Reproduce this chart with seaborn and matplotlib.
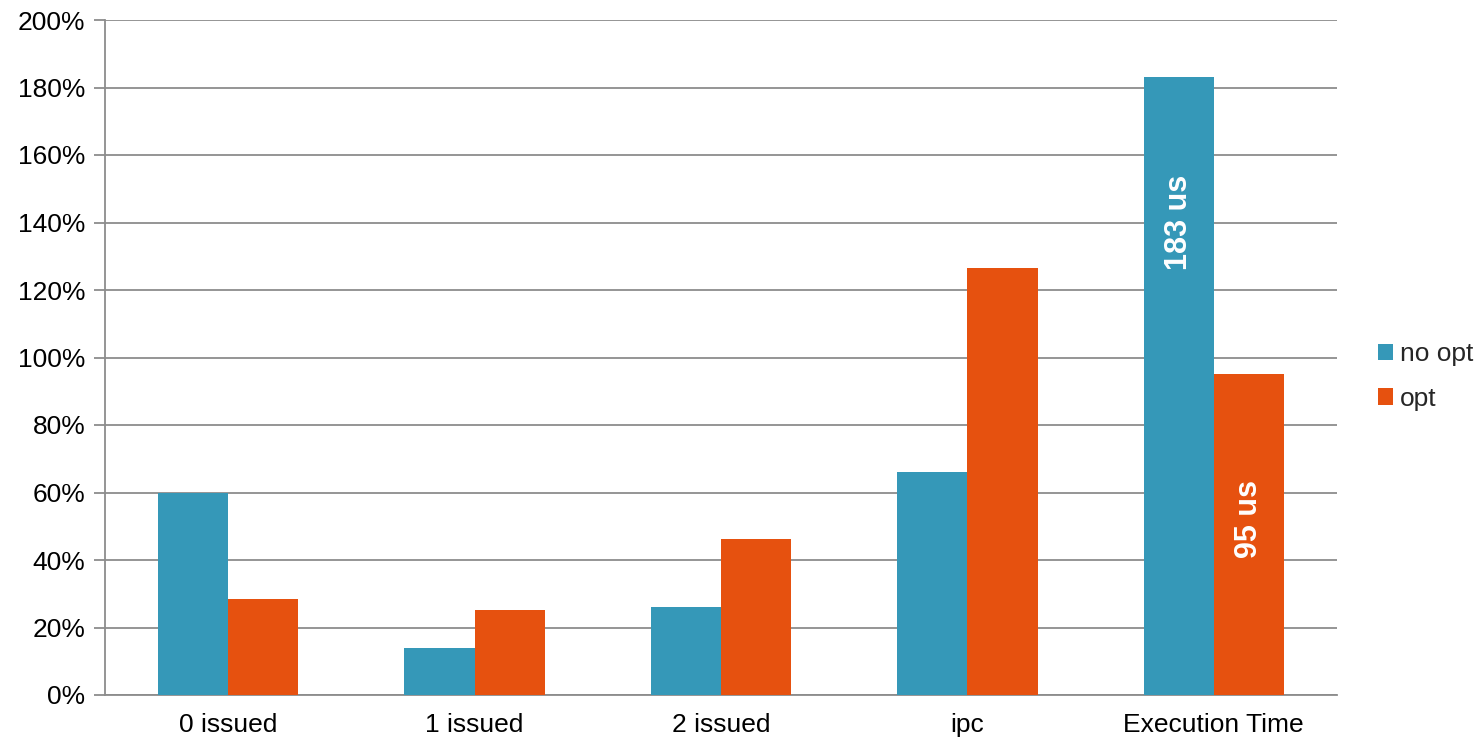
import matplotlib
matplotlib.use("Agg")
import matplotlib.pyplot as plt
import seaborn as sns
import pandas as pd
from matplotlib.ticker import PercentFormatter, MultipleLocator, FixedLocator

categories = ["0 issued", "1 issued", "2 issued", "ipc", "Execution Time"]
no_opt = [60, 14, 26, 66, 183]
opt = [28.3, 25.2, 46.3, 126.6, 95]
series = ["no opt", "opt"]
time_labels = {("Execution Time", "no opt"): "183 us", ("Execution Time", "opt"): "95 us"}

df = pd.DataFrame({
    "category": categories * 2,
    "value": no_opt + opt,
    "series": [series[0]] * len(categories) + [series[1]] * len(categories),
})

sns.set_theme(style="white")
plt.rcParams["font.family"] = ["Liberation Sans", "DejaVu Sans"]

fig = plt.figure(figsize=(14.77, 7.39), dpi=100)
ax = fig.add_axes([105 / 1477, 44 / 739, (1337 - 105) / 1477, (695 - 20) / 739])

palette = {"no opt": "#3598B8", "opt": "#E6510F"}
sns.barplot(data=df, x="category", y="value", hue="series", order=categories,
            hue_order=series, palette=palette, width=0.57, saturation=1,
            linewidth=0, ax=ax, zorder=3)

ax.set_ylim(0, 200)
ax.set_xlim(-0.5, len(categories) - 0.5)
ax.yaxis.set_major_locator(MultipleLocator(20))
ax.yaxis.set_major_formatter(PercentFormatter(decimals=0))
ax.grid(axis="y", color="#8C8C8C", linewidth=1.3, zorder=0)
ax.set_xlabel("")
ax.set_ylabel("")

for side in ["top", "right"]:
    ax.spines[side].set_visible(False)
for side in ["left", "bottom"]:
    ax.spines[side].set_color("#8C8C8C")
    ax.spines[side].set_linewidth(1.3)

# category tick labels centred, tick marks at the group boundaries
ax.tick_params(axis="x", length=0, labelsize=19, colors="black", pad=13)
ax.xaxis.set_minor_locator(FixedLocator([i - 0.5 for i in range(len(categories) + 1)]))
ax.tick_params(axis="x", which="minor", length=8, width=1.3, color="#8C8C8C", direction="out")
ax.tick_params(axis="y", length=8, width=1.3, color="#8C8C8C", labelsize=19,
               labelcolor="black", pad=6, left=True)

# value labels inside the execution-time bars
for cont, name in zip(ax.containers, series):
    for bar, cat in zip(cont, categories):
        text = time_labels.get((cat, name))
        if text:
            h = bar.get_height()
            y = h - 43 if name == "no opt" else h * 0.55
            ax.text(bar.get_x() + bar.get_width() / 2, y, text, rotation=90,
                    ha="center", va="center", color="white", fontsize=22,
                    fontweight="bold", zorder=5)

handles, labels = ax.get_legend_handles_labels()
ax.legend(handles, labels, loc="center left", bbox_to_anchor=(1.033, 0.472),
          frameon=False, fontsize=19, handlelength=0.6, handleheight=0.6,
          handletextpad=0.25, labelspacing=0.77, borderaxespad=0, borderpad=0)

fig.savefig("out.png", dpi=100)
